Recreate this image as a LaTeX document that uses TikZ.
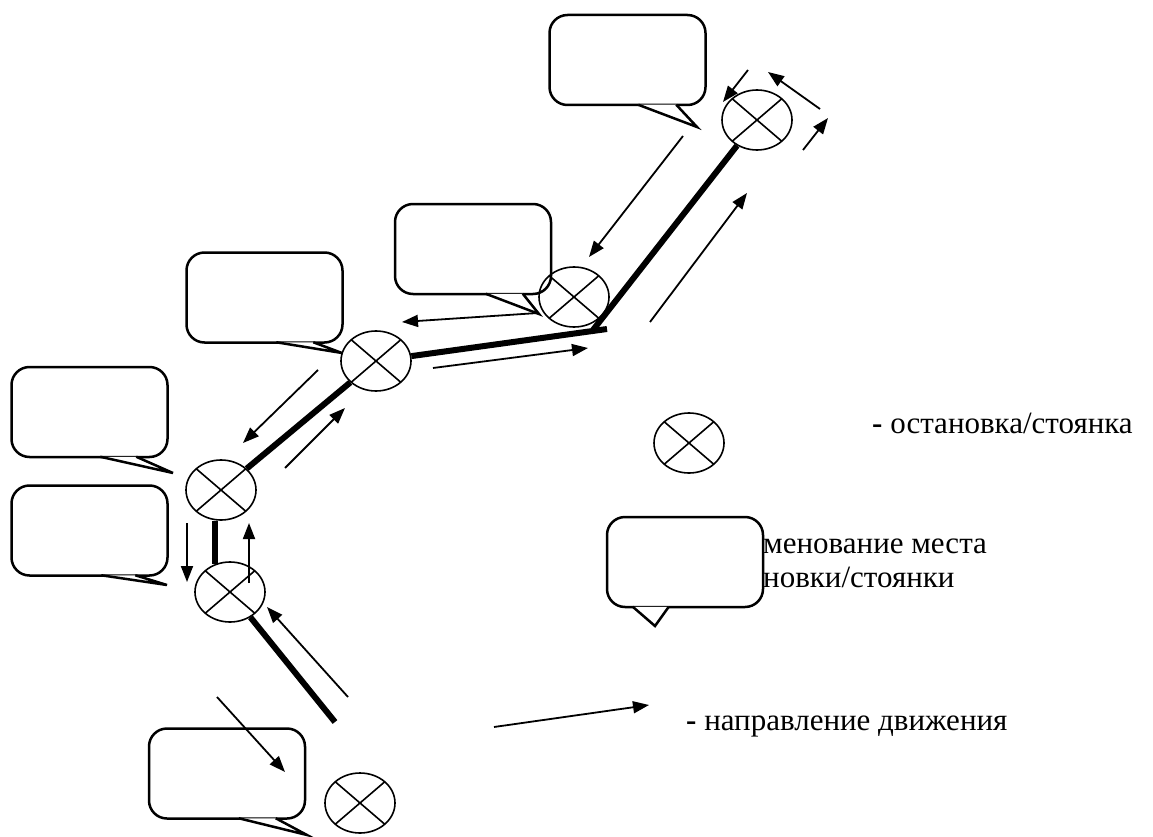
\documentclass[tikz,border=0pt]{standalone}
\usepackage{fontspec}
\setmainfont{Liberation Serif}
\usetikzlibrary{shapes.geometric,arrows.meta}

\tikzset{
  stop/.style={ellipse, draw, line width=1.6pt, minimum width=70pt, minimum height=60pt, inner sep=0pt,
    path picture={\draw[line width=1.6pt] (path picture bounding box.north west) -- (path picture bounding box.south east)
      (path picture bounding box.north east) -- (path picture bounding box.south west);}},
  bubble/.style={draw, line width=2.5pt, rounded corners=18pt, fill=white, minimum width=156pt, minimum height=90pt, inner sep=0pt},
  tail/.style={draw, line width=2.5pt, fill=white, line join=miter},
  route/.style={line width=6pt},
  move/.style={line width=1.8pt, -{Triangle[length=16pt,width=12pt]}},
  legend/.style={anchor=base west, inner sep=0pt, font=\fontsize{31}{34}\selectfont}
}

\begin{document}
\begin{tikzpicture}[x=1pt,y=-1pt]
    \useasboundingbox (0,0) rectangle (1153,837);

    % callouts
    \node[bubble] (c1) at (627.5,60) {};
    \node[bubble] (c2) at (473,249) {};
    \node[bubble] (c3) at (264.5,297.5) {};
    \node[bubble] (c4) at (89.5,412) {};
    \node[bubble] (c5) at (89.5,530.5) {};
    \node[bubble] (c6) at (227,773.5) {};
    \node[bubble] (cl) at (685,562) {};
    \draw[tail] ([xshift=90pt,yshift=1.5pt]c1.south west) -- (697,127) -- ([xshift=128pt,yshift=1.5pt]c1.south west);
    \draw[tail] ([xshift=92pt,yshift=1.5pt]c2.south west) -- (539,314) -- ([xshift=129pt,yshift=1.5pt]c2.south west);
    \draw[tail] ([xshift=91pt,yshift=1.5pt]c3.south west) -- (342,353) -- ([xshift=128pt,yshift=1.5pt]c3.south west);
    \draw[tail] ([xshift=90pt,yshift=1.5pt]c4.south west) -- (173,473) -- ([xshift=126pt,yshift=1.5pt]c4.south west);
    \draw[tail] ([xshift=91pt,yshift=1.5pt]c5.south west) -- (167,585) -- ([xshift=125pt,yshift=1.5pt]c5.south west);
    \draw[tail] ([xshift=91pt,yshift=1.5pt]c6.south west) -- (307,835) -- ([xshift=128pt,yshift=1.5pt]c6.south west);
    \draw[tail] ([xshift=27pt,yshift=1.5pt]cl.south west) -- (655,626) -- ([xshift=63pt,yshift=1.5pt]cl.south west);

    % stops
    \node[stop] (s1) at (757,120) {};
    \node[stop] (s2) at (574,297) {};
    \node[stop] (s3) at (376,361) {};
    \node[stop] (s4) at (221,490) {};
    \node[stop] (s5) at (230,592) {};
    \node[stop] (s6) at (360,803) {};
    \node[stop] (sl) at (689,443) {};

    % route
    \coordinate (j) at (593,330);
    \coordinate (e) at (607,329);
    \coordinate (t) at (335,722);
    \draw[route] (s1) -- (j);
    \draw[route] (s3) -- (e);
    \draw[route] (s3) -- (s4);
    \draw[route] ([xshift=-6pt]s4.south) -- ([xshift=-15pt,yshift=-3pt]s5.north);
    \draw[route] (s5) -- (t);

    % direction of movement
    \foreach \a/\b in {{748,70}/{723,102}, {820,109}/{768,72}, {803,150}/{828,118},
        {683,136}/{589,257}, {650,322}/{747,193}, {538,313}/{402,322}, {433,368}/{588,348},
        {318,370}/{243,443}, {285,468}/{345,408}, {187,523}/{187,582}, {249,583}/{249,523},
        {348,697}/{267,607}, {217,697}/{285,772}}
      \draw[move] (\a) -- (\b);
    \draw[move] (494,727) -- (649,705);

    % legend
    \node[legend] (l1) at (872,433) {{\bfseries -} остановка/стоянка};
    \node[legend] (l2) at (763,553) {менование места};
    \node[legend] (l3) at (763,587) {новки/стоянки};
    \node[legend] (l4) at (686,730) {{\bfseries -} направление движения};
\end{tikzpicture}
\end{document}
